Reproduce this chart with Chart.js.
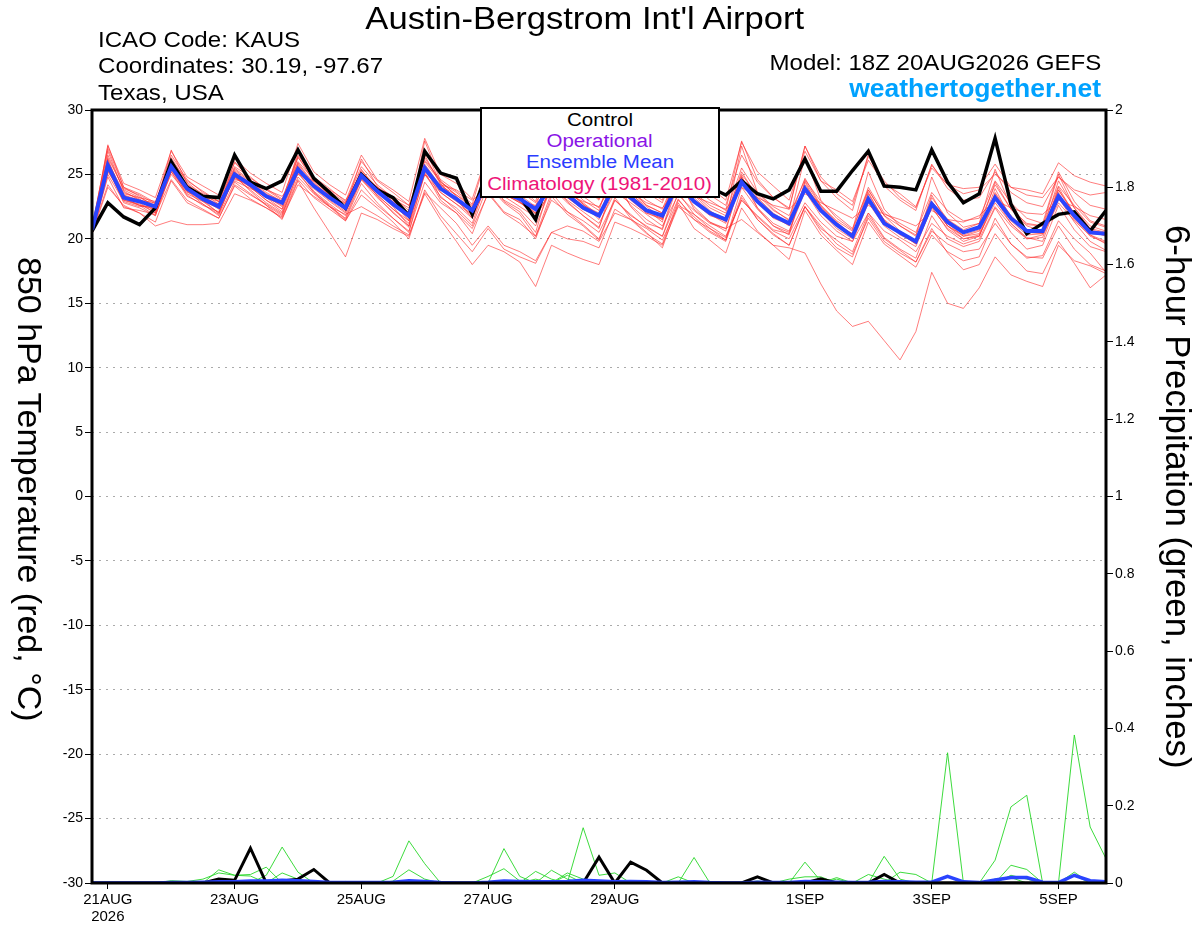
<!DOCTYPE html>
<html>
<head>
<meta charset="utf-8">
<script src="https://cdn.jsdelivr.net/npm/chart.js@4.4.1/dist/chart.umd.min.js"></script>
<style>
  body { margin: 0; background: #fff; font-family: "Liberation Sans", Arial, sans-serif; }
  #wrap { position: relative; width: 1200px; height: 927px; overflow: hidden; }
  #chart { position: absolute; left: 0; top: 0; }
  .txt { position: absolute; white-space: nowrap; line-height: 1; color: #000; }
  .wide { display: inline-block; transform: scaleX(1.12); transform-origin: left top; }
  .wideR { display: inline-block; transform: scaleX(1.12); transform-origin: right top; }
  #legendBox { position: absolute; left: 480px; top: 107px; width: 236px; height: 87px;
    border: 2px solid #000; background: #fff; }
  #legendBox div { position: absolute; left: 0; width: 100%; text-align: center;
    font-size: 18px; line-height: 1; white-space: nowrap; }
  #legendBox span { display: inline-block; transform: scaleX(1.14); transform-origin: center top; }
  .vtitle { position: absolute; white-space: nowrap; line-height: 1; transform: rotate(90deg); transform-origin: left top; }
</style>
</head>
<body>
<div id="wrap">
  <canvas id="chart" width="1200" height="927"></canvas>

  <div class="txt" style="left:0;width:1170px;top:3px;font-size:31px;text-align:center;">
    <span style="display:inline-block;transform:scaleX(1.115);">Austin-Bergstrom Int'l Airport</span>
  </div>
  <div class="txt" style="left:98px;top:29.5px;font-size:21.5px;"><span class="wide">ICAO Code: KAUS</span></div>
  <div class="txt" style="left:98px;top:56px;font-size:21.5px;"><span class="wide">Coordinates: 30.19, -97.67</span></div>
  <div class="txt" style="left:98px;top:82.8px;font-size:21.5px;"><span class="wide">Texas, USA</span></div>
  <div class="txt" style="right:99px;top:52.5px;font-size:21.5px;"><span class="wideR">Model: 18Z 20AUG2026 GEFS</span></div>
  <div class="txt" style="right:99px;top:74.5px;font-size:26.5px;font-weight:bold;color:#00a2ff;">weathertogether.net</div>

  <div id="legendBox">
    <div style="top:1.5px;color:#000;"><span>Control</span></div>
    <div style="top:23px;color:#8a14e6;"><span>Operational</span></div>
    <div style="top:44px;color:#2a3cff;"><span>Ensemble Mean</span></div>
    <div style="top:65.5px;color:#ee1478;"><span>Climatology (1981-2010)</span></div>
  </div>

  <div class="vtitle" style="left:46.5px;top:257px;font-size:34px;">850 hPa Temperature (red, °C)</div>
  <div class="vtitle" style="left:1194.5px;top:225px;font-size:34.8px;">6-hour Precipitation (green, inches)</div>
</div>

<script>
// forecast hours from 18Z 20AUG2026
const hours = [0,6,12,18,24,30,36,42,48,54,60,66,72,78,84,90,96,102,108,114,120,126,132,138,144,150,156,162,168,174,180,186,192,198,204,210,216,222,228,234,240,246,252,258,264,270,276,282,288,294,300,306,312,318,324,330,336,342,348,354,360,366,372,378,384];

const tickHours = [6, 54, 102, 150, 198, 270, 318, 366];
const tickLabels = [['21AUG', '2026'], '23AUG', '25AUG', '27AUG', '29AUG', '1SEP', '3SEP', '5SEP'];

// 850 hPa temperature (C)
const tempControl = [20.6,
  22.8,21.7,21.1,22.4, 26.0,24.0,23.3,23.2, 26.5,24.4,23.9,24.5, 26.9,24.7,23.6,22.4,
  25.0,23.8,23.2,21.8, 26.8,25.1,24.7,21.9, 25.5,23.8,23.3,21.5, 25.5,24.0,23.8,23.5,
  25.5,24.2,23.6,23.6, 25.8,24.5,24.0,23.4, 24.5,23.5,23.1,23.8, 26.2,23.7,23.7,25.3,
  26.8,24.1,24.0,23.8, 26.9,24.4,22.8,23.5, 27.8,22.7,20.4,21.2, 21.9,22.1,20.6,22.2];

const tempMean = [20.7,
  25.7,23.2,22.9,22.5, 25.6,23.9,23.1,22.5, 25.0,24.2,23.3,22.8, 25.4,24.1,23.2,22.4,
  24.9,23.7,22.7,21.8, 25.5,23.9,23.1,22.2, 24.5,23.6,23.1,22.3, 24.2,23.4,22.4,21.8,
  24.2,23.2,22.2,21.8, 24.3,22.9,22.0,21.5, 24.4,22.9,21.8,21.2, 23.9,22.2,21.1,20.2,
  23.1,21.2,20.5,19.8, 22.7,21.3,20.5,20.9, 23.2,21.6,20.6,20.6, 23.3,21.8,20.5,20.4];

const tempMembers = [
  [20.8, 27.2,24.3,23.8,23.2, 26.8,24.8,24.1,23.4, 26.2,25.1,24.3,23.6, 27.4,25.2,24.2,23.4, 26.5,24.6,23.8,22.9, 27.8,25.0,24.3,23.1, 26.8,25.0,24.4,23.2, 26.5,25.0,24.0,23.1, 26.2,24.8,23.8,23.0, 27.1,25.0,24.0,23.0, 27.5,25.2,24.1,23.0, 26.8,24.5,23.8,22.9, 26.1,24.3,23.5,22.5, 25.5,24.2,23.9,24.0, 25.8,24.0,23.8,23.5, 25.9,24.9,24.4,24.1],
  [20.5, 24.2,22.5,22.0,21.3, 24.5,22.8,22.2,21.6, 24.1,23.1,22.4,21.7, 24.6,23.2,22.3,21.4, 23.8,22.6,21.6,20.6, 24.4,22.8,22.0,20.8, 23.5,22.0,21.2,20.2, 23.0,22.1,21.4,20.5, 23.0,21.9,20.9,20.2, 23.1,21.5,20.5,19.8, 23.2,21.5,20.4,19.5, 22.5,20.8,19.9,19.0, 22.0,20.1,19.2,18.5, 21.8,20.0,19.4,19.8, 22.4,20.5,19.2,19.5, 22.6,20.7,19.4,19.0],
  [20.6, 25.3,23.0,22.6,22.3, 25.0,23.5,22.9,22.4, 24.8,24.0,23.2,22.6, 25.7,24.0,23.0,22.1, 24.6,23.4,22.3,21.4, 25.0,23.6,22.7,21.9, 24.3,23.3,22.5,21.7, 23.8,23.0,22.1,21.2, 23.6,22.8,21.9,21.0, 23.4,22.2,21.2,20.8, 21.5,20.5,19.5,19.3, 18.9,16.5,14.4,13.2, 13.6,12.1,10.6,12.8, 17.4,15.0,14.6,16.2, 18.6,17.2,16.7,16.3, 19.5,18.3,17.9,17.3],
  [20.4, 24.0,22.6,22.0,21.0, 21.4,21.1,21.1,21.2, 23.5,23.0,22.4,21.6, 24.2,23.3,22.5,21.9, 22.5,21.8,21.0,20.3, 23.6,22.4,21.2,19.5, 21.0,19.5,19.0,18.3, 20.5,21.0,20.6,19.8, 22.0,21.5,20.8,19.9, 22.6,21.9,21.0,20.2, 23.0,21.8,20.7,20.4, 22.8,21.3,20.2,19.8, 22.0,20.6,19.9,19.0, 21.2,20.2,19.6,20.0, 22.5,21.0,20.0,20.3, 22.8,21.4,20.3,19.6],
  [20.7, 26.0,23.6,23.1,22.2, 25.9,24.0,23.0,22.0, 24.9,23.7,22.6,21.5, 24.5,22.4,20.5,18.6, 22.0,21.5,20.8,20.2, 23.5,21.5,19.8,18.0, 19.5,19.0,18.2,16.3, 19.5,18.9,18.4,18.0, 21.3,20.8,20.2,19.5, 22.5,21.5,20.8,20.1, 23.0,21.7,20.6,20.0, 22.5,21.0,19.6,18.8, 21.6,19.8,18.9,18.2, 20.6,19.6,19.0,19.2, 21.2,19.6,18.5,18.7, 21.4,20.0,18.9,17.4],
  [20.9, 27.0,24.0,23.5,22.8, 26.5,24.6,23.6,22.9, 25.6,24.8,23.8,23.0, 26.5,24.8,23.7,22.8, 25.6,24.2,23.2,22.2, 26.3,24.4,23.6,22.5, 25.2,24.3,23.7,22.8, 25.0,24.2,23.3,22.4, 25.2,24.0,23.0,22.3, 25.3,23.6,22.6,22.0, 25.5,23.6,22.5,21.8, 24.6,22.9,21.8,20.8, 23.8,21.8,21.0,20.3, 22.9,21.5,20.7,21.2, 24.2,22.3,21.2,21.0, 24.1,22.6,21.3,20.9],
  [20.5, 25.2,23.4,23.0,22.8, 25.2,23.6,23.3,22.9, 24.6,24.3,23.8,23.3, 25.0,24.5,23.8,23.0, 24.8,24.0,23.3,22.6, 25.0,24.2,23.8,23.0, 24.0,23.8,23.5,23.3, 23.8,23.5,22.9,22.5, 24.5,23.6,22.8,22.4, 24.0,23.3,22.8,22.3, 24.0,23.2,22.6,22.3, 23.5,22.8,22.2,21.6, 22.6,21.9,21.5,21.0, 22.2,21.5,21.3,21.8, 23.0,22.4,22.0,21.9, 23.0,22.5,21.8,21.5],
  [20.6, 27.3,24.0,23.3,22.4, 26.9,24.3,23.1,22.3, 26.0,24.6,23.3,22.5, 26.8,24.5,23.4,22.4, 26.2,24.1,22.8,21.5, 27.0,24.3,23.0,21.8, 26.0,24.0,22.9,21.6, 25.7,23.8,22.7,21.5, 25.3,23.6,22.3,21.3, 26.0,23.4,22.2,21.3, 27.2,23.6,22.3,21.4, 26.4,23.0,21.6,20.7, 25.2,22.3,21.0,20.2, 24.8,22.0,20.9,21.2, 25.4,22.5,21.1,21.0, 25.0,22.4,20.8,20.5],
  [20.8, 26.1,23.0,22.7,22.0, 25.5,23.4,22.6,22.1, 25.2,24.0,23.0,22.3, 25.6,23.9,22.9,22.0, 25.0,23.3,22.0,21.0, 25.6,23.2,22.4,21.2, 24.8,22.9,22.1,20.5, 24.6,22.9,21.8,20.8, 24.8,22.5,21.2,20.8, 24.7,22.3,21.3,20.6, 24.9,22.4,21.0,20.5, 24.4,22.1,20.8,20.0, 23.5,21.4,20.4,19.8, 23.4,21.2,20.2,20.6, 23.9,21.6,20.5,20.4, 24.0,21.9,20.3,19.8],
  [20.4, 25.5,22.8,22.4,21.8, 25.2,23.3,22.7,21.8, 24.4,23.5,22.6,21.8, 25.2,23.6,22.6,21.5, 24.3,22.8,21.6,20.5, 25.2,23.0,22.0,20.4, 23.6,22.1,21.5,20.0, 23.3,21.9,21.0,19.9, 23.0,21.8,21.0,20.2, 23.6,21.9,20.8,19.9, 23.4,21.5,20.3,19.5, 22.5,20.6,19.3,18.6, 21.8,20.0,19.1,18.2, 20.8,18.9,17.6,18.0, 20.4,18.8,17.5,17.3, 19.8,18.1,16.2,17.2],
  [20.6, 26.5,23.8,23.2,22.6, 26.0,24.1,23.2,22.6, 25.5,24.5,23.6,22.9, 26.0,24.6,23.4,22.7, 25.3,24.0,23.0,22.0, 26.0,24.4,23.4,22.4, 25.0,23.9,23.2,22.0, 24.6,23.7,22.7,21.7, 24.5,23.4,22.3,21.5, 24.8,23.0,21.9,21.2, 24.6,23.1,21.8,21.0, 24.2,22.4,21.2,20.2, 23.6,21.4,20.4,19.6, 22.6,21.0,20.2,20.4, 23.6,21.8,20.6,20.5, 23.8,22.0,20.6,20.2],
  [20.7, 25.8,23.5,23.2,22.9, 25.8,24.2,23.5,22.7, 25.4,24.4,23.5,22.9, 25.9,24.3,23.4,22.3, 24.9,23.7,22.8,21.4, 27.6,24.5,23.3,22.0, 24.2,23.4,22.9,21.6, 24.0,23.5,22.6,22.0, 24.4,23.7,22.6,22.0, 24.9,23.5,22.4,21.8, 25.0,23.4,22.2,21.5, 24.7,22.6,21.4,20.6, 24.0,22.0,21.2,20.5, 23.6,22.2,21.4,21.6, 24.5,22.8,21.6,21.2, 25.2,22.9,21.4,21.0],
  [20.9, 25.6,23.1,22.6,22.4, 25.6,24.0,23.3,22.4, 24.7,24.1,23.4,22.8, 25.3,24.2,23.3,22.5, 25.1,23.8,22.9,22.0, 25.2,24.0,23.1,22.3, 25.6,24.2,23.4,22.5, 26.0,24.2,23.0,22.2, 25.8,23.9,22.6,22.0, 25.4,24.0,23.0,22.2, 27.6,24.6,23.2,22.3, 27.2,24.5,23.2,22.2, 26.6,24.1,23.0,22.2, 25.8,23.9,23.0,23.2, 25.2,23.6,22.8,22.5, 24.8,23.6,22.6,22.3],
  [20.5, 24.8,22.4,22.2,21.9, 24.6,23.0,22.3,21.6, 24.2,23.4,22.7,21.9, 24.8,23.5,22.5,21.4, 23.4,22.4,21.3,20.0, 23.8,21.8,20.4,19.0, 20.8,19.2,18.6,18.1, 20.5,20.0,19.8,19.3, 22.3,21.5,20.4,19.6, 23.0,21.7,20.6,19.9, 24.0,22.3,21.0,20.3, 24.5,22.5,21.2,20.3, 23.8,21.8,20.6,19.8, 23.2,21.5,20.5,20.8, 24.4,22.3,21.0,20.6, 24.5,22.4,21.0,20.6],
  [20.7, 26.8,23.7,23.0,22.1, 26.3,24.4,23.4,22.5, 25.2,24.2,23.2,22.3, 26.4,24.4,23.2,22.2, 25.4,23.7,22.5,21.0, 26.5,24.2,23.1,21.6, 25.0,23.8,23.2,21.9, 24.8,23.6,22.8,21.8, 24.9,23.5,22.5,21.6, 25.0,23.2,22.1,21.6, 25.2,23.2,22.0,21.2, 24.0,22.6,21.3,20.3, 23.1,21.5,20.5,19.6, 22.4,20.8,20.0,20.2, 23.4,21.4,20.3,20.4, 23.6,21.6,20.4,20.3],
  [20.6, 26.3,23.9,23.4,22.7, 26.1,24.5,23.7,22.9, 25.9,24.7,23.9,23.1, 26.3,24.8,23.9,22.9, 26.0,24.5,23.6,22.6, 26.1,24.6,23.7,22.7, 26.8,24.8,24.0,22.9, 27.0,25.0,24.1,23.0, 26.4,24.7,23.6,22.8, 26.2,24.4,23.4,22.6, 26.5,24.4,23.2,22.4, 27.2,24.8,23.5,22.6, 26.4,24.5,23.2,22.4, 25.7,24.2,23.5,23.8, 25.0,24.0,23.4,23.2, 24.8,23.8,23.4,23.6],
  [20.3, 25.0,22.9,22.5,22.6, 25.4,23.8,23.0,22.6, 24.5,23.9,23.4,22.9, 25.6,24.0,23.2,22.8, 25.2,23.9,23.1,22.4, 25.8,24.1,23.4,22.6, 24.9,23.5,22.8,22.6, 24.3,23.2,22.3,21.9, 24.0,23.0,22.0,21.6, 24.6,22.8,21.8,21.4, 24.8,22.8,21.6,21.1, 23.9,22.2,21.1,20.4, 23.0,21.3,20.3,19.7, 22.8,21.0,20.0,20.3, 22.8,21.2,20.1,19.8, 23.2,21.3,19.8,19.1],
  [20.8, 25.4,23.4,22.8,22.0, 25.3,23.7,22.9,22.0, 24.8,23.8,22.8,22.0, 25.1,23.6,22.5,21.6, 24.6,23.2,22.1,20.9, 25.0,23.3,22.2,21.0, 24.2,22.8,21.9,20.2, 23.6,22.1,21.1,20.0, 23.2,21.6,20.5,19.3, 22.8,20.8,19.9,18.9, 22.4,20.6,19.5,18.4, 22.2,20.3,19.1,18.0, 21.3,19.6,18.7,17.8, 20.3,19.0,18.3,18.6, 21.6,19.6,18.6,18.5, 21.0,19.2,18.0,17.5],
  [20.5, 25.9,23.3,22.9,22.5, 25.7,24.0,23.2,22.7, 25.3,24.3,23.4,22.7, 25.8,24.2,23.1,22.3, 25.0,23.6,22.6,21.7, 25.7,23.8,22.9,22.1, 24.6,23.5,22.8,22.0, 24.3,23.2,22.3,21.7, 24.2,23.1,22.0,21.5, 24.5,22.9,21.9,21.5, 24.7,22.9,21.7,21.1, 24.0,22.2,21.0,20.4, 23.2,21.3,20.5,19.9, 22.9,21.0,20.3,20.7, 23.5,21.7,20.6,20.6, 23.8,21.9,20.7,20.4],
  [20.9, 26.2,23.2,22.6,21.8, 25.4,23.7,22.7,21.9, 25.0,24.0,23.0,22.1, 25.5,23.7,22.7,21.8, 24.7,23.4,22.3,21.2, 25.4,23.6,22.7,21.6, 24.4,23.0,22.3,21.0, 24.0,22.8,21.8,20.9, 24.1,22.6,21.5,20.7, 24.3,22.5,21.3,20.8, 24.5,22.4,21.2,20.6, 23.7,21.8,20.6,19.8, 22.8,21.0,20.1,19.4, 22.5,20.7,19.8,20.2, 23.1,21.2,20.0,20.1, 23.3,21.5,20.2,19.7]
];

// 6-hour precipitation (inches)
const precipControl = [0,
  0,0,0,0, 0,0,0,.01, .007,.09,0,.005, .01,.035,0,0,
  0,0,0,0, 0,0,0,0, 0,0,0,0, 0,0,0,.067,
  0,.054,.033,0, 0,0,0,0, 0,.016,0,0, 0,.011,0,0,
  0,.022,0,0, 0,0,0,0, 0,0,0,0, 0,0,0,0];

const precipMean = [0,
  0,0,0,0, .001,.001,.002,.003, .003,.005,.005,.007, .006,.004,.001,.001,
  .001,.001,.002,.006, .004,.001,0,0, .002,.005,.004,.003, .003,.004,.007,.005,
  .003,.004,.003,.001, .002,.003,.001,0, 0,.002,.001,.001, .004,.003,.002,.001,
  .002,.004,.003,.002, .002,.017,.003,.001, .008,.014,.014,.002, .001,.02,.006,.003];

const precipMembers = [
  [0, 0,0,0,0, 0,0,0,0, 0,0,0,0, 0,0,0,0, 0,0,.017,.109, .05,0,0,0, 0,0,0,0, 0,0,0,0, 0,0,0,0, 0,0,0,0, 0,0,0,0, 0,0,0,0, 0,0,0,0, 0,0,0,0, .059,.197,.227,0, 0,0,0,0],
  [0, 0,0,0,0, 0,0,0,.034, .02,.022,.041,0, 0,0,0,0, 0,0,0,0, 0,0,0,0, 0,0,0,0, 0,0,0,0, 0,0,0,0, 0,0,0,0, 0,0,0,0, 0,0,0,0, 0,0,0,0, 0,.337,0,0, 0,0,0,0, 0,.383,.145,.063],
  [0, 0,0,0,0, 0,0,0,0, 0,0,.02,.093, .028,0,0,0, 0,0,0,0, 0,0,0,0, 0,.089,.017,0, 0,0,0,0, 0,0,0,0, 0,.066,0,0, 0,0,0,0, 0,0,0,0, 0,0,0,0, 0,0,0,0, 0,0,0,0, 0,0,0,0],
  [0, 0,0,0,0, 0,0,0,0, 0,0,0,0, 0,0,0,0, 0,0,.005,.034, .01,0,0,0, .017,.037,.005,0, 0,0,.143,.02, .026,0,0,0, 0,0,0,0, 0,0,0,0, 0,0,0,0, 0,.069,.01,0, 0,0,0,0, 0,0,0,0, 0,0,0,0],
  [0, 0,0,0,0, .006,.004,.01,.026, .02,.018,0,0, 0,0,0,0, 0,0,0,0, 0,0,0,0, 0,0,0,.03, .01,0,0,0, 0,0,0,0, 0,0,0,0, 0,0,0,0, .054,.005,0,0, 0,0,0,0, 0,0,0,0, 0,.046,.035,0, 0,0,0,0],
  [0, 0,0,0,0, 0,0,0,0, 0,0,0,.026, .01,0,0,0, 0,0,0,0, 0,0,0,0, 0,0,0,0, .033,.01,0,0, 0,0,0,0, .016,0,0,0, 0,0,0,0, 0,0,.014,0, .022,.01,0,0, 0,0,0,0, 0,0,0,0, 0,.028,0,0],
  [0, 0,0,0,0, 0,0,0,0, 0,0,0,0, 0,0,0,0, 0,0,0,0, 0,0,0,0, 0,0,0,0, 0,.026,.01,0, 0,0,0,0, 0,0,0,0, 0,0,0,.01, .016,.016,0,0, 0,0,.028,.022, 0,0,0,0, 0,.02,.01,0, 0,0,0,0],
  [0, 0,0,0,0, 0,0,0,0, 0,0,0,0, 0,0,0,.004, 0,0,0,0, 0,0,0,0, 0,0,0,.01, 0,.02,0,0, 0,0,0,0, 0,0,0,0, 0,.005,0,0, 0,0,.01,0, 0,0,0,0, 0,0,0,0, .01,.014,0,0, 0,.02,0,0]
];

const ctx = document.getElementById('chart');
const fontFamily = '"Liberation Sans", Arial, sans-serif';

const line = (data, axis, color, width, order) => ({
  data: data,
  yAxisID: axis,
  borderColor: color,
  borderWidth: width,
  pointRadius: 0,
  tension: 0,
  fill: false,
  order: order
});

const datasets = [];
datasets.push(line(tempMean, 'y', '#2a44ff', 4, 1));
datasets.push(line(precipMean, 'y1', '#2a44ff', 3.5, 1));
datasets.push(line(tempControl, 'y', '#000000', 3.5, 2));
datasets.push(line(precipControl, 'y1', '#000000', 3, 2));
precipMembers.forEach(m => datasets.push(line(m, 'y1', 'rgba(40,215,40,0.9)', 1, 4)));
tempMembers.forEach(m => datasets.push(line(m, 'y', 'rgba(255,45,45,0.62)', 1, 5)));

// thick frame round the plot area
const frame = {
  id: 'frame',
  afterDatasetsDraw(chart) {
    const a = chart.chartArea;
    const c = chart.ctx;
    c.save();
    c.strokeStyle = '#000';
    c.lineWidth = 3;
    c.strokeRect(a.left, a.top, a.right - a.left, a.bottom - a.top);
    c.restore();
  }
};

new Chart(ctx, {
  type: 'line',
  data: { labels: hours, datasets: datasets },
  plugins: [frame],
  options: {
    responsive: false,
    animation: false,
    devicePixelRatio: 1,
    layout: { padding: { top: 110, left: 0, right: 0, bottom: 0 } },
    plugins: {
      legend: { display: false },
      tooltip: { enabled: false }
    },
    scales: {
      x: {
        type: 'linear',
        min: 0,
        max: 384,
        afterFit: s => { s.height = 44 },
        afterBuildTicks: s => { s.ticks = tickHours.map(v => ({ value: v })) },
        ticks: {
          autoSkip: false,
          maxRotation: 0,
          color: '#000',
          padding: 3,
          font: { family: fontFamily, size: 15, lineHeight: 1.1 },
          callback: v => tickLabels[tickHours.indexOf(v)]
        },
        grid: { drawOnChartArea: false, tickLength: 6, tickColor: '#000', tickWidth: 1 },
        border: { display: false }
      },
      y: {
        position: 'left',
        min: -30,
        max: 30,
        afterFit: s => { s.width = 92 },
        ticks: { stepSize: 5, color: '#000', padding: 2, font: { family: fontFamily, size: 14 } },
        grid: { color: '#aaaaaa', lineWidth: 1, tickLength: 7, tickColor: '#000', tickWidth: 1, tickBorderDash: [] },
        border: { display: false, dash: [2, 5] }
      },
      y1: {
        position: 'right',
        min: 0,
        max: 2,
        afterFit: s => { s.width = 94 },
        ticks: {
          stepSize: 0.2,
          color: '#000',
          padding: 2,
          font: { family: fontFamily, size: 14 },
          callback: v => +v.toFixed(1)
        },
        grid: { drawOnChartArea: false, tickLength: 7, tickColor: '#000', tickWidth: 1 },
        border: { display: false }
      }
    }
  }
});
</script>
</body>
</html>
